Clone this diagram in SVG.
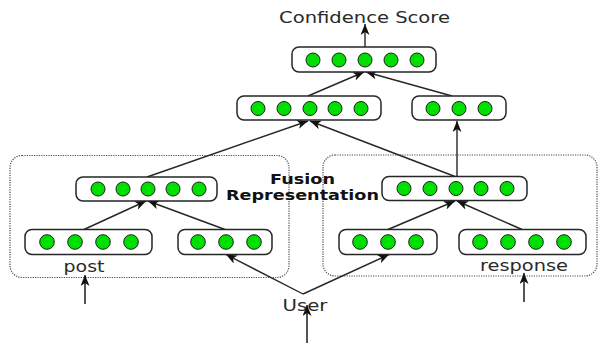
<svg xmlns="http://www.w3.org/2000/svg" width="598" height="343" viewBox="0 0 598 343">
  <style>
    .box { fill: #ffffff; stroke: #262626; stroke-width: 1.5; }
    .unit { fill: #00e000; stroke: #1f1f1f; stroke-width: 1; }
    .group { fill: none; stroke: #4a4a4a; stroke-width: 1.2; stroke-dasharray: 1.2 1.2; }
    .edge { fill: none; stroke: #262626; stroke-width: 1.4; marker-end: url(#arrow); }
    .input { fill: none; stroke: #555555; stroke-width: 2; marker-end: url(#arrow); }
    .label { font-family: "DejaVu Sans", "Liberation Sans", sans-serif; font-size: 15.5px; fill: #2a2a2a; text-anchor: middle; }
    .title { font-family: "DejaVu Sans", "Liberation Sans", sans-serif; font-size: 14.5px; font-weight: bold; fill: #111111; text-anchor: middle; }
  </style>
  <defs>
    <marker id="arrow" markerUnits="userSpaceOnUse" markerWidth="11" markerHeight="9" refX="11" refY="4.5" orient="auto">
      <path d="M0,0 L11,4.5 L0,9 L3,4.5 z" fill="#111111"/>
    </marker>
  </defs>

  <rect width="598" height="343" fill="#ffffff"/>

  <!-- dotted groupings for the post and response branches -->
  <g id="groups">
    <rect class="group" x="10" y="155.5" width="279" height="122" rx="12"/>
    <rect class="group" x="323" y="155" width="274" height="121" rx="12"/>
  </g>

  <!-- connectors -->
  <g id="connectors">
    <line class="edge" x1="365" y1="47" x2="365" y2="24"/>
    <line class="edge" x1="308" y1="96" x2="364" y2="72"/>
    <line class="edge" x1="452" y1="96" x2="366" y2="72"/>
    <line class="edge" x1="147" y1="177" x2="308" y2="121"/>
    <line class="edge" x1="455" y1="176.5" x2="310" y2="121"/>
    <line class="edge" x1="457" y1="176.5" x2="457" y2="121"/>
    <line class="edge" x1="84" y1="229.5" x2="146" y2="201"/>
    <line class="edge" x1="225" y1="229.5" x2="148" y2="201"/>
    <line class="edge" x1="388" y1="229.5" x2="455" y2="201"/>
    <line class="edge" x1="522" y1="229.5" x2="457" y2="201"/>
    <line class="edge" x1="303" y1="294" x2="226" y2="254.5"/>
    <line class="edge" x1="303" y1="294" x2="389" y2="254.5"/>
    <line class="input" x1="85" y1="304" x2="85" y2="275"/>
    <line class="input" x1="524" y1="302" x2="524" y2="273"/>
    <line class="input" x1="307" y1="343" x2="307" y2="305"/>
  </g>

  <g id="output">
    <rect class="box" x="292" y="47" width="144" height="25" rx="7"/>
    <circle class="unit" cx="313" cy="60" r="7"/>
    <circle class="unit" cx="339" cy="60" r="7"/>
    <circle class="unit" cx="365" cy="60" r="7"/>
    <circle class="unit" cx="391" cy="60" r="7"/>
    <circle class="unit" cx="417" cy="60" r="7"/>
  </g>

  <g id="joint">
    <rect class="box" x="237" y="96" width="144" height="24" rx="7"/>
    <circle class="unit" cx="258" cy="108.5" r="7"/>
    <circle class="unit" cx="284" cy="108.5" r="7"/>
    <circle class="unit" cx="310" cy="108.5" r="7"/>
    <circle class="unit" cx="335" cy="108.5" r="7"/>
    <circle class="unit" cx="361" cy="108.5" r="7"/>
  </g>

  <g id="response-hidden">
    <rect class="box" x="412" y="96" width="94" height="24" rx="7"/>
    <circle class="unit" cx="433" cy="108.5" r="7"/>
    <circle class="unit" cx="459" cy="108.5" r="7"/>
    <circle class="unit" cx="485" cy="108.5" r="7"/>
  </g>

  <g id="fusion-post">
    <rect class="box" x="76" y="177" width="141" height="24" rx="7"/>
    <circle class="unit" cx="98" cy="189" r="7"/>
    <circle class="unit" cx="123" cy="189" r="7"/>
    <circle class="unit" cx="148" cy="189" r="7"/>
    <circle class="unit" cx="173" cy="189" r="7"/>
    <circle class="unit" cx="199" cy="189" r="7"/>
  </g>

  <g id="fusion-response">
    <rect class="box" x="382" y="176.5" width="145" height="24" rx="7"/>
    <circle class="unit" cx="404" cy="188.5" r="7"/>
    <circle class="unit" cx="430" cy="188.5" r="7"/>
    <circle class="unit" cx="456" cy="188.5" r="7"/>
    <circle class="unit" cx="481" cy="188.5" r="7"/>
    <circle class="unit" cx="507" cy="188.5" r="7"/>
  </g>

  <g id="post">
    <rect class="box" x="25" y="229.5" width="127" height="25" rx="7"/>
    <circle class="unit" cx="47" cy="242" r="7.3"/>
    <circle class="unit" cx="75" cy="242" r="7.3"/>
    <circle class="unit" cx="103" cy="242" r="7.3"/>
    <circle class="unit" cx="131" cy="242" r="7.3"/>
    <text class="label" x="84" y="272" textLength="41" lengthAdjust="spacingAndGlyphs">post</text>
  </g>

  <g id="user-post">
    <rect class="box" x="178" y="229.5" width="94" height="25" rx="7"/>
    <circle class="unit" cx="198" cy="242" r="7.3"/>
    <circle class="unit" cx="226" cy="242" r="7.3"/>
    <circle class="unit" cx="254" cy="242" r="7.3"/>
  </g>

  <g id="user-response">
    <rect class="box" x="339" y="229.5" width="98" height="25" rx="7"/>
    <circle class="unit" cx="360" cy="242" r="7.3"/>
    <circle class="unit" cx="388" cy="242" r="7.3"/>
    <circle class="unit" cx="416" cy="242" r="7.3"/>
  </g>

  <g id="response">
    <rect class="box" x="459" y="229.5" width="127" height="25" rx="7"/>
    <circle class="unit" cx="480" cy="242" r="7.3"/>
    <circle class="unit" cx="508" cy="242" r="7.3"/>
    <circle class="unit" cx="536" cy="242" r="7.3"/>
    <circle class="unit" cx="564" cy="242" r="7.3"/>
    <text class="label" x="524" y="271" textLength="88" lengthAdjust="spacingAndGlyphs">response</text>
  </g>

  <g id="labels">
    <text class="label" x="364.5" y="22.5" textLength="171" lengthAdjust="spacingAndGlyphs">Confidence Score</text>
    <text class="title" x="302.5" y="183.5" textLength="65" lengthAdjust="spacingAndGlyphs">Fusion</text>
    <text class="title" x="302.5" y="200" textLength="153" lengthAdjust="spacingAndGlyphs">Representation</text>
    <text class="label" x="305" y="311" textLength="45" lengthAdjust="spacingAndGlyphs">User</text>
  </g>
</svg>
